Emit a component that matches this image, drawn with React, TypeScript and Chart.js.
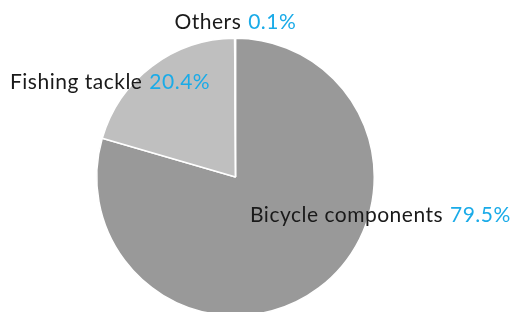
import React, { useEffect, useRef } from "react";
import { Chart, registerables } from "chart.js";

Chart.register(...registerables);

const categories = ["Bicycle components", "Fishing tackle", "Others"];
const shares = [79.5, 20.4, 0.1];
const colors = ["#999999", "#bfbfbf", "#7f7f7f"];

const labelPlugin = {
  id: "sliceLabels",
  afterDraw(chart: any) {
    const ctx = chart.ctx;
    const arc = chart.getDatasetMeta(0).data[0];
    const cx = arc.x;
    const cy = arc.y;
    const r = arc.outerRadius;
    const anchors = [
      [cx + 14.5, cy + 45],
      [10, cy - 88],
      [cx - 61, cy - r - 9.5],
    ];
    ctx.save();
    ctx.font = "400 21px Lato";
    (ctx as any).letterSpacing = "0.5px";
    ctx.textBaseline = "alphabetic";
    ctx.textAlign = "left";
    categories.forEach((name, i) => {
      const [x, y] = anchors[i];
      const a = name + " ";
      const b = shares[i].toFixed(1) + "%";
      ctx.fillStyle = "#1a1a1a";
      ctx.fillText(a, x, y);
      const w = ctx.measureText(a).width + 1;
      ctx.fillStyle = "#1aabe8";
      ctx.fillText(b, x + w, y);
    });
    ctx.restore();
  },
};

export default function App() {
  const ref = useRef<HTMLCanvasElement>(null);
  useEffect(() => {
    document.body.style.margin = "0";
    const chart = new Chart(ref.current!, {
      type: "pie",
      data: {
        labels: categories,
        datasets: [
          {
            data: shares,
            backgroundColor: colors,
            borderColor: "#ffffff",
            borderWidth: 1.5,
          },
        ],
      },
      options: {
        animation: false,
        responsive: false,
        rotation: 0,
        layout: { padding: { left: 96, right: 136, top: 37.5, bottom: 23.5 } },
        plugins: { legend: { display: false }, tooltip: { enabled: false } },
      },
      plugins: [labelPlugin],
    });
    return () => chart.destroy();
  }, []);
  return (
    <div style={{ position: "fixed", left: 0, top: 0, width: 511, height: 312, overflow: "hidden", background: "#fff" }}>
      <canvas ref={ref} width={511} height={340} style={{ width: 511, height: 340 }} />
    </div>
  );
}
